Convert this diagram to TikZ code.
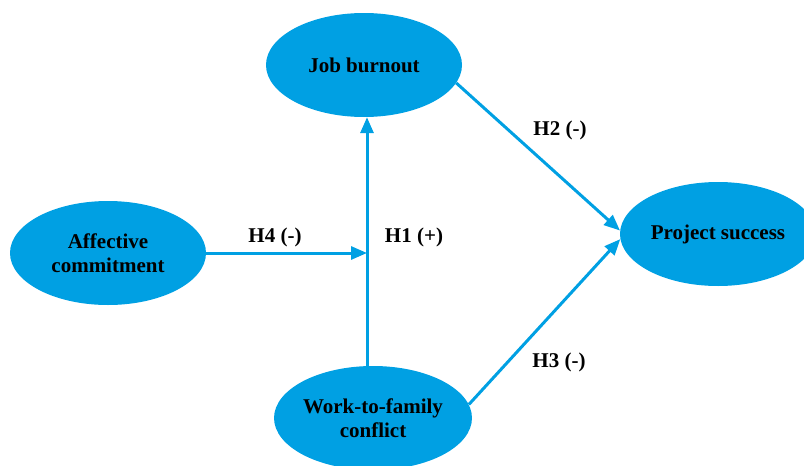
\documentclass[tikz,border=0pt]{standalone}
\usepackage{fontspec}
\setmainfont{Liberation Serif}
\usetikzlibrary{shapes.geometric,arrows.meta}
\definecolor{cblue}{RGB}{0,160,227}
\begin{document}
\begin{tikzpicture}[x=1pt,y=-1pt,
  construct/.style={ellipse,fill=cblue,draw=none,minimum width=196pt,minimum height=104pt,inner sep=0pt,align=center,font=\fontsize{21}{24}\selectfont\bfseries},
  link/.style={draw=cblue,line width=3pt,-{Triangle[length=16pt,width=13pt]}},
  hyp/.style={font=\fontsize{21}{24}\selectfont\bfseries}]
\useasboundingbox (0,0) rectangle (804,466);
\node[construct] (jb) at (364,65) {Job burnout};
\node[construct] (ac) at (108,253) {Affective\\commitment};
\node[construct] (ps) at (718,234) {Project success};
\node[construct] (wfc) at (373,418) {Work-to-family\\conflict};
\coordinate (m) at (367,253);
\draw[link] (wfc.north -| m) -- (jb.south -| m);
\draw[link] (ac.east) -- (m);
\draw[link] (jb.-11) -- (ps.178);
\draw[link] (wfc.8) -- (ps.183);
\node[hyp] (h2) at (560,130) {H2 (-)};
\node[hyp] (h3) at (559,362) {H3 (-)};
\node[hyp] (h4) at (275,237) {H4 (-)};
\node[hyp] (h1) at (414,237) {H1 (+)};
\end{tikzpicture}
\end{document}
